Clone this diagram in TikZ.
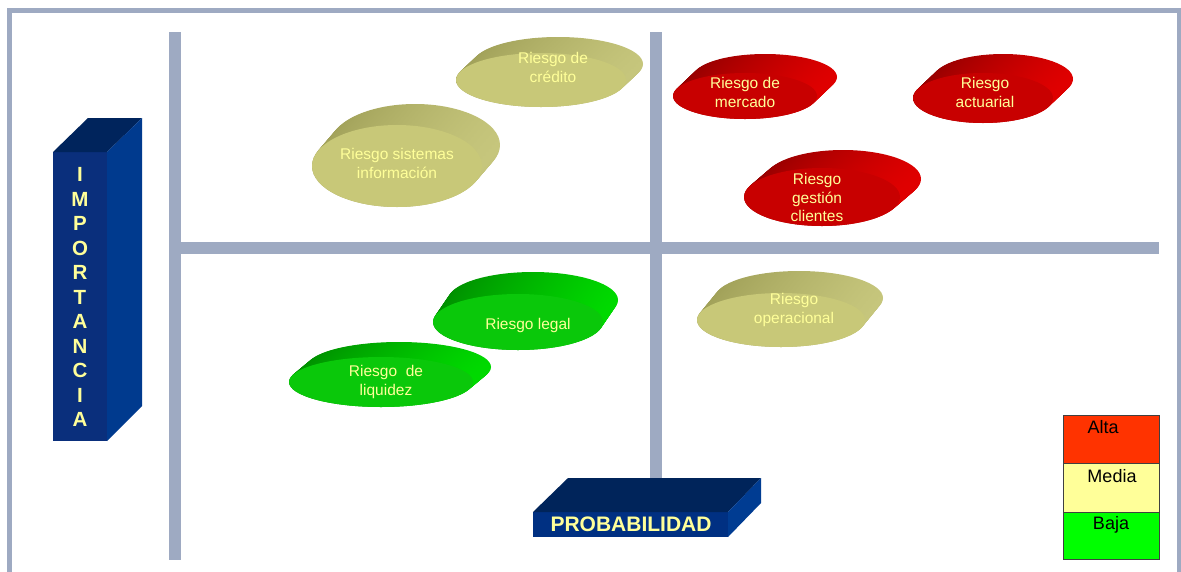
\documentclass[tikz,border=0pt]{standalone}
\usepackage{fontspec}
\setmainfont{Liberation Sans}
\definecolor{barc}{HTML}{9EAAC2}
\definecolor{khF}{HTML}{C8C878}
\definecolor{khD}{HTML}{A0A058}
\definecolor{khS}{HTML}{C6C67C}
\definecolor{grF}{HTML}{0AC80A}
\definecolor{grD}{HTML}{008E00}
\definecolor{grS}{HTML}{00DA00}
\definecolor{rdF}{HTML}{C80000}
\definecolor{rdD}{HTML}{940000}
\definecolor{rdS}{HTML}{E00000}
\definecolor{txtyel}{HTML}{FFFF99}
\definecolor{impF}{HTML}{0A2F7C}
\definecolor{impT}{HTML}{00245C}
\definecolor{impS}{HTML}{003A8E}
\definecolor{prbT}{HTML}{00245A}
\definecolor{prbF}{HTML}{003082}
\definecolor{prbS}{HTML}{003C92}
\definecolor{altac}{HTML}{FF3300}
\definecolor{mediac}{HTML}{FFFF99}
\definecolor{bajac}{HTML}{00FF00}
\definecolor{legline}{HTML}{404040}
% #1 cx, #2 cy, #3 rx, #4 ry, #5 dx, #6 dy, #7 colour prefix
\newcommand{\riskdisc}[7]{%
  \foreach \k in {0,...,24}{%
    \pgfmathsetmacro\ff{1-\k/24}%
    \shade[left color=#7D, right color=#7S]
      ({#1+\ff*(#5)},{#2+\ff*(#6)}) ellipse ({#3} and {#4});
  }%
  \fill[#7F] (#1,#2) ellipse ({#3} and {#4});
}
\begin{document}
\begin{tikzpicture}[x=1pt,y=-1pt,
  disctext/.style={text=txtyel, align=center, anchor=north, inner sep=0pt,
    font=\fontsize{15.5}{18.6}\selectfont},
  imptext/.style={text=txtyel, inner sep=0pt, font=\fontsize{20.5}{22}\selectfont\bfseries},
  legtext/.style={text=black, anchor=base, inner sep=0pt, font=\fontsize{18}{20}\selectfont}]
\useasboundingbox (0,0) rectangle (1181,571);
\fill[white] (0,0) rectangle (1181,571);
\begin{scope}
  \clip (0,0) rectangle (1181,571);
  \draw[barc, line width=5] (9.5,10.5) rectangle (1179,640);
\end{scope}
% axes bars
\fill[barc] (169,32) rectangle (181,560);
\fill[barc] (180,242) rectangle (1159,254);
\fill[barc] (650,32) rectangle (662,480);
% IMPORTANCIA block
\fill[impF] (53,152) rectangle (107,441);
\fill[impT] (53,152) -- (88,118) -- (142,118) -- (107,152) -- cycle;
\fill[impS] (107,152) -- (142,118) -- (142,406) -- (107,441) -- cycle;
\foreach \l [count=\i from 0] in {I,M,P,O,R,T,A,N,C,I,A}
  \node[imptext] (imp\i) at (80,{174.5+24.5*\i}) {\l};
% PROBABILIDAD block
\fill[prbF] (533,512) rectangle (728,537);
\fill[prbT] (533,512) -- (568,478) -- (761,478) -- (728,512) -- cycle;
\fill[prbS] (728,512) -- (761,478) -- (761,503) -- (728,537) -- cycle;
\node[text=txtyel, inner sep=0pt, font=\fontsize{21}{23}\selectfont\bfseries] (prob) at (631,524.5) {PROBABILIDAD};
% discs
\riskdisc{541}{80}{85}{27}{17}{-16}{kh}
\node[disctext] (credito) at (553,52) {Riesgo de\\crédito};
\riskdisc{397}{166}{85}{41}{18}{-21}{kh}
\node[disctext] (sistemas) at (397,148) {Riesgo sistemas\\información};
\riskdisc{781}{320}{84}{27}{18}{-22}{kh}
\node[disctext] (operacional) at (794,293) {Riesgo\\operacional};
\riskdisc{518}{322}{85}{28}{15}{-22}{gr}
\node[disctext] (legal) at (528,318) {Riesgo legal};
\riskdisc{381}{382}{92}{25}{18}{-15}{gr}
\node[disctext] (liquidez) at (386,365) {Riesgo~~de\\liquidez};
\riskdisc{745}{96}{72}{23}{20}{-19}{rd}
\node[disctext] (mercado) at (745,77) {Riesgo de\\mercado};
\riskdisc{983}{98}{70}{25}{20}{-19}{rd}
\node[disctext] (actuarial) at (985,77) {Riesgo\\actuarial};
\riskdisc{822}{197}{78}{29}{21}{-18}{rd}
\node[disctext] (gestion) at (817,173) {Riesgo\\gestión\\clientes};
% legend
\filldraw[draw=legline, fill=altac, line width=0.8] (1063,415) rectangle (1159,463);
\filldraw[draw=legline, fill=mediac, line width=0.8] (1063,463) rectangle (1159,512);
\filldraw[draw=legline, fill=bajac, line width=0.8] (1063,512) rectangle (1159,559);
\node[legtext] (alta) at (1103,433) {Alta};
\node[legtext] (media) at (1112,482) {Media};
\node[legtext] (baja) at (1111,529) {Baja};
\end{tikzpicture}
\end{document}
